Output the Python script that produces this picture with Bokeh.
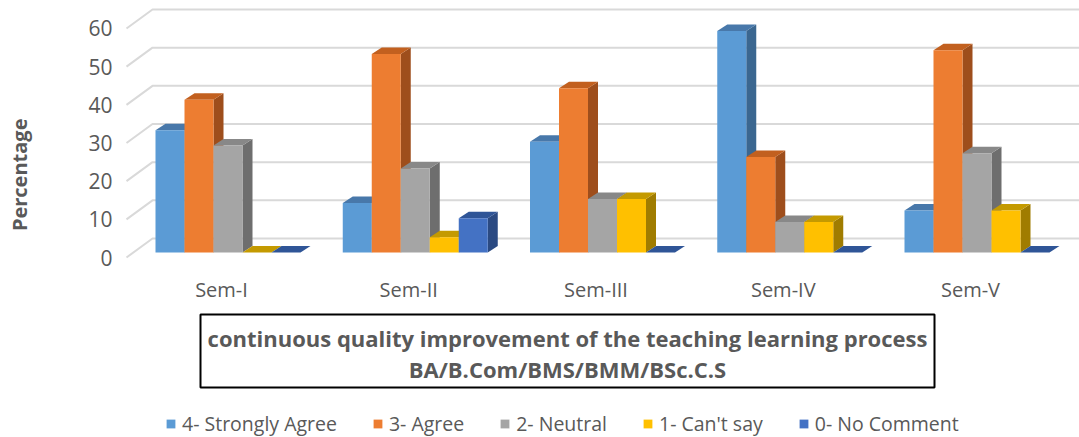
import math
from bokeh.plotting import figure
from bokeh.models import Range1d, FixedTicker, Legend, LegendItem
from bokeh.embed import file_html
from bokeh.resources import INLINE
from bokeh.core.properties import value

# ---------------- data ----------------
categories = ["Sem-I", "Sem-II", "Sem-III", "Sem-IV", "Sem-V"]
series_names = ["4- Strongly Agree", "3- Agree", "2- Neutral", "1- Can't say", "0- No Comment"]
strongly_agree = [32, 13, 29, 58, 11]
agree = [40, 52, 43, 25, 53]
neutral = [28, 22, 14, 8, 26]
cant_say = [0, 4, 14, 8, 11]
no_comment = [0, 9, 0, 0, 0]
y_ticks = [0, 10, 20, 30, 40, 50, 60]
title_lines = ["continuous quality improvement of the teaching learning process",
               "BA/B.Com/BMS/BMM/BSc.C.S"]
y_title = "Percentage"

series_values = [strongly_agree, agree, neutral, cant_say, no_comment]

# ---------------- style ----------------
front_colors = ["#5B9BD5", "#ED7D31", "#A5A5A5", "#FFC000", "#4472C4"]
top_colors = ["#4878AA", "#C2601F", "#888888", "#C49A00", "#2F5597"]
side_colors = ["#3B6790", "#9E4E1C", "#6E6E6E", "#A07C00", "#2B4A82"]
TEXT = "#595959"
FONT = "Open Sans"

W, H = 1079, 437
M = 0                    # observed page offset
FRAME_LEFT = 122         # frame left inside figure
SX = 187.25              # px per category
SY = 3.817               # px per percentage point
X0 = 221 - M             # px of first category (front plane)
Y0 = 257 - M             # px of value 0 (front plane)


def xd(px_abs):
    return (px_abs - M - X0) / SX


def yd(py_abs):
    return (Y0 - (py_abs - M)) / SY


def dx(px):
    return px / SX


def dy(px):
    return px / SY


p = figure(width=W, height=H, output_backend="svg", toolbar_location=None,
           x_range=Range1d((FRAME_LEFT - X0) / SX, (W - X0) / SX),
           y_range=Range1d(-(H - Y0) / SY, Y0 / SY),
           min_border_left=FRAME_LEFT, min_border_right=0,
           min_border_top=0, min_border_bottom=0)
p.outline_line_color = None
p.grid.visible = False
p.xaxis.visible = False
p.background_fill_color = "white"
p.border_fill_color = "white"

ya = p.yaxis[0]
ya.ticker = FixedTicker(ticks=y_ticks)
ya.axis_line_color = None
ya.major_tick_line_color = None
ya.minor_tick_line_color = None
ya.major_tick_out = 0
ya.major_label_standoff = 10
ya.major_label_text_font = FONT
ya.major_label_text_font_size = "21px"
ya.major_label_text_color = TEXT
# the axis title is centred on the frame; non-breaking spaces lift it to the
# position it has in the reference
ya.axis_label = "\u00a0" * 17 + y_title
ya.axis_label_text_font = FONT
ya.axis_label_text_font_size = "20px"
ya.axis_label_text_font_style = "bold"
ya.axis_label_text_color = TEXT
ya.axis_label_standoff = 52

# ---------------- gridlines (3D wall) ----------------
back_dx, back_dy = 26, 19
gx, gy = [], []
for t in y_ticks:
    gx.append([xd(126), xd(126 + back_dx), p.x_range.end])
    gy.append([t, t + dy(back_dy), t + dy(back_dy)])
p.multi_line(gx, gy, line_color="#D9D9D9", line_width=2)

# ---------------- 3D bars ----------------
bar_w = dx(29)
bar_off_x = dx(6.5 - 72.5)
base = dy(5)
ddx, ddy = dx(10), dy(6.5)

legend_items = []
for k, vals in enumerate(series_values):
    lefts = [i + bar_off_x + k * bar_w for i in range(len(categories))]
    rights = [l + bar_w for l in lefts]
    tops = [base + v for v in vals]
    side_xs, side_ys, top_xs, top_ys = [], [], [], []
    for l, r, t, v in zip(lefts, rights, tops, vals):
        if v > 0:
            side_xs.append([r, r, r + ddx, r + ddx])
            side_ys.append([base, t, t + ddy, base + ddy])
        top_xs.append([l, r, r + ddx, l + ddx])
        top_ys.append([t, t, t + ddy, t + ddy])
    if side_xs:
        p.patches(side_xs, side_ys, fill_color=side_colors[k], line_color=None)
    p.patches(top_xs, top_ys, fill_color=top_colors[k], line_color=None)
    r = p.vbar(x=[(l + rr) / 2 for l, rr in zip(lefts, rights)], width=bar_w,
               bottom=base, top=tops, fill_color=front_colors[k], line_color=None)
    legend_items.append(LegendItem(label=series_names[k], renderers=[r]))

# ---------------- category labels ----------------
p.text(x=list(range(len(categories))), y=[yd(289)] * len(categories), text=categories,
       text_align="center", text_baseline="middle", text_font=value(FONT),
       text_font_size="20px", text_color=TEXT)

# ---------------- title box ----------------
p.quad(left=[xd(200)], right=[xd(934)], top=[yd(314)], bottom=[yd(387)],
       fill_color=None, line_color="black", line_width=2)
p.text(x=[xd(567)] * 2, y=[yd(337), yd(368)], text=title_lines,
       text_align="center", text_baseline="middle", text_font=value(FONT),
       text_font_size="22px", text_font_style="bold", text_color=TEXT)

# ---------------- legend ----------------
legend = Legend(items=legend_items, orientation="horizontal",
                location=(165 - M - FRAME_LEFT, H - (427 - M) - 10),
                padding=0, margin=0, spacing=35, glyph_width=11, glyph_height=11,
                label_standoff=6, label_text_font=FONT, label_text_font_size="19.5px",
                label_text_color=TEXT, border_line_color=None, background_fill_alpha=0)
p.add_layout(legend)

open("out.html", "w").write(file_html(p, INLINE))
